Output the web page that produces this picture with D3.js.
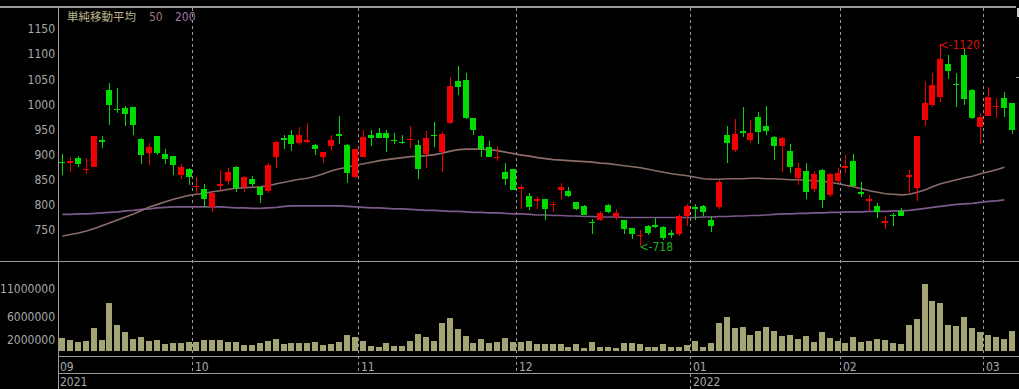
<!DOCTYPE html>
<html>
<head>
<meta charset="utf-8">
<script src="https://cdnjs.cloudflare.com/ajax/libs/d3/7.8.5/d3.min.js"></script>
<style>
  html, body { margin: 0; padding: 0; background: #000; }
  .axis-text { font-family: "Liberation Sans Narrow", "DejaVu Sans Condensed", sans-serif; font-size: 12px; fill: #a8a8a8; }
</style>
</head>
<body>
<div class="chart"></div>
<script>
/* Global Constants
============================================= */
const SVG_WIDTH = 1019;
const SVG_HEIGHT = 389;

const UP_COLOR = "#f00000";
const DOWN_COLOR = "#00dc00";
const LINE_COLOR = "#9a9a9a";

/* Data
============================================= */
const DATES = (
  "2021-09-06 2021-09-07 2021-09-08 2021-09-09 2021-09-10 2021-09-13 2021-09-14 2021-09-15 2021-09-16 2021-09-17 " +
  "2021-09-21 2021-09-22 2021-09-24 2021-09-27 2021-09-28 2021-09-29 2021-09-30 " +
  "2021-10-01 2021-10-04 2021-10-05 2021-10-06 2021-10-07 2021-10-08 2021-10-11 2021-10-12 2021-10-13 2021-10-14 " +
  "2021-10-15 2021-10-18 2021-10-19 2021-10-20 2021-10-21 2021-10-22 2021-10-25 2021-10-26 2021-10-27 2021-10-28 2021-10-29 " +
  "2021-11-01 2021-11-02 2021-11-04 2021-11-05 2021-11-08 2021-11-09 2021-11-10 2021-11-11 2021-11-12 2021-11-15 " +
  "2021-11-16 2021-11-17 2021-11-18 2021-11-19 2021-11-22 2021-11-24 2021-11-25 2021-11-26 2021-11-29 2021-11-30 " +
  "2021-12-01 2021-12-02 2021-12-03 2021-12-06 2021-12-07 2021-12-08 2021-12-09 2021-12-10 2021-12-13 2021-12-14 " +
  "2021-12-15 2021-12-16 2021-12-17 2021-12-20 2021-12-21 2021-12-22 2021-12-23 2021-12-24 2021-12-27 2021-12-28 2021-12-29 2021-12-30 " +
  "2022-01-04 2022-01-05 2022-01-06 2022-01-07 2022-01-11 2022-01-12 2022-01-13 2022-01-14 2022-01-17 2022-01-18 " +
  "2022-01-19 2022-01-20 2022-01-21 2022-01-24 2022-01-25 2022-01-26 2022-01-27 2022-01-28 2022-01-31 " +
  "2022-02-01 2022-02-02 2022-02-03 2022-02-04 2022-02-07 2022-02-08 2022-02-09 2022-02-10 2022-02-14 2022-02-15 " +
  "2022-02-16 2022-02-17 2022-02-18 2022-02-21 2022-02-22 2022-02-24 2022-02-25 2022-02-28 " +
  "2022-03-01 2022-03-02 2022-03-03 2022-03-04").split(" ");

const OPEN = [886,886,894,870,876,930,1029,991,992,994, 932,903,937,901,897,859,871,837,831,796,
              840,848,876,835,852,835,828,895,934,939, 923,925,919,896,917,941,920,855,896,940,
              944,944,930,926,931,920,901,940,905,962, 1047,1048,972,937,916,895,866,871,832,818,
              810,811,801,830,827,805,798,766,769,800, 775,769,753,740,758,759,755,744,743,777,
              795,798,770,795,939,909,947,930,974,956, 936,917,907,853,867,831,869,820,848,876,
              887,825,810,798,766,780,787,858,833,969, 999,1014,1080,1041,1098,1029,954,977,996,1012,
              1002];
const HIGH = [901,896,897,894,938,937,1042,1032,997,995, 933,924,938,911,898,881,873,855,842,824,
              869,873,877,858,858,838,884,927,939,950, 954,962,922,906,939,977,921,912,950,950,
              953,949,944,939,957,930,947,964,946,1054, 1076,1063,973,940,928,917,883,872,840,824,
              816,812,806,844,836,806,800,771,788,801, 791,770,754,750,760,773,757,750,781,802,
              802,799,778,849,957,970,994,968,985,997, 937,935,921,884,883,868,872,863,873,899,
              901,846,820,803,778,783,793,869,937,1047, 1063,1120,1098,1063,1112,1030,983,1035,1013,1024,
              1003];
const LOW  = [860,866,875,861,875,913,959,982,956,939, 881,879,899,881,859,851,840,823,796,786,
              830,840,826,826,838,803,824,873,911,908, 919,923,899,883,908,922,844,854,895,918,
              933,905,921,921,913,851,873,916,866,961, 1019,970,939,896,895,888,840,829,791,790,
              791,770,786,810,816,789,779,743,768,784, 770,743,732,718,740,753,730,735,738,757,
              769,777,747,791,883,906,936,924,921,939, 889,866,864,840,811,826,793,816,844,863,
              838,816,788,773,751,757,777,823,808,957, 995,1005,1050,995,999,970,922,976,973,975,
              942];
const CLOSE = [885,887,881,872,937,925,999,989,980,958, 899,916,903,891,879,876,856,838,811,823,
               841,865,833,855,842,820,879,926,929,921, 939,930,911,905,929,940,864,911,936,934,
               934,934,929,925,932,871,933,939,942,1037, 1034,972,949,911,896,896,851,830,835,796,
               811,791,802,836,818,791,780,765,783,785, 783,751,742,741,745,757,735,743,778,798,
               793,786,757,846,923,942,945,944,946,948, 917,934,876,873,826,861,810,861,863,877,
               838,823,811,785,767,777,778,859,937,1003, 1039,1090,1066,1039,1011,972,975,1015,997,993,
               949];
const VOLUME = [2.27,1.86,1.45,1.63,3.93,1.8,8.5,4.6,3.2,2.0, 2.45,1.63,1.8,1.15,1.3,1.3,1.5,1.45,1.86,1.86,
                1.86,1.45,1.45,0.9,0.95,1.27,1.63,2.1,1.1,1.3, 1.3,1.3,1.45,1.0,1.1,1.45,2.75,2.45,1.63,0.85,
                0.68,1.3,0.85,0.85,1.74,3.0,2.45,1.74,4.8,5.8, 3.8,2.6,1.4,2.0,1.3,1.45,2.27,1.45,1.45,1.74,
                1.15,1.1,1.1,1.1,0.68,1.1,0.5,1.45,0.68,0.68, 0.5,1.3,1.3,1.1,0.68,0.68,1.1,0.68,0.68,0.9,
                1.63,0.68,1.3,4.8,6.0,4.0,4.1,2.8,3.45,4.1, 3.45,2.6,2.8,2.1,2.6,1.57,3.2,2.27,1.63,1.4,
                2.45,1.57,1.63,2.0,1.8,1.4,1.1,4.45,5.6,11.8, 8.7,8.5,4.6,4.28,6.0,3.9,3.2,2.75,2.45,2.0,
                3.45];
const MA50 = [738,741,744,748,753,759,764,770,776,782, 789,796,801,806,811,815,819,821,823,826,
              828,831,833,834,835,836,838,842,845,848, 851,853,857,862,868,872,875,879,882,885,
              888,890,892,894,896,897,898,900,903,907, 910,911,911,911,910,908,905,902,899,897,
              894,892,890,889,888,887,886,885,883,882, 880,878,876,874,871,868,865,862,860,858,
              855,852,851,851,852,852,852,853,853,852, 852,851,850,850,849,848,847,845,842,839,
              836,832,828,825,822,821,820,821,825,830, 836,842,846,850,854,857,862,866,870,875];
const MA200 = [781,781,782,782,783,784,785,786,788,789, 791,792,794,795,796,796,796,796,796,796,
               796,795,794,794,793,793,794,795,797,798, 798,798,798,798,798,798,797,796,795,794,
               794,793,792,792,791,790,789,789,788,787, 787,786,785,785,784,784,783,782,782,781,
               780,780,779,779,778,778,777,777,776,776, 776,775,775,775,775,775,775,775,775,775,
               775,776,776,777,777,778,778,779,779,780, 781,782,782,783,783,784,784,785,785,786,
               786,786,787,787,787,788,788,789,791,793, 795,797,799,801,802,803,805,807,808,810];

const PRICE_TICKS = [750, 800, 850, 900, 950, 1000, 1050, 1100, 1150];
const VOLUME_TICKS = [2000000, 6000000, 11000000];

/* Layout
============================================= */
var plotLeft = 58,
    plotRight = 1016,
    priceTop = 8,
    priceBottom = 261,
    volBottom = 356,
    monthRow = 373;

var svg = d3.select(".chart")
    .append("svg")
    .attr("width", SVG_WIDTH)
    .attr("height", SVG_HEIGHT)
    .style("display", "block")
    .style("background", "#000");

var candles = DATES.map(function(d, i) {
    return { date: d, open: OPEN[i], high: HIGH[i], low: LOW[i], close: CLOSE[i], volume: VOLUME[i] * 1e6 };
});

// scales
var xScale = d3.scaleBand().domain(DATES).range([plotLeft, 1014]).paddingInner(0.2);
var yPrice = d3.scaleLinear().domain([750, 1150]).range([230, 29]);
var yVolume = d3.scaleLinear().domain([0, 11000000]).range([350.5, 288.4]);

function cx(d) {
    return Math.round(xScale(d) + xScale.step() / 2) + 0.5;
}

svg.append("clipPath").attr("id", "price-clip")
    .append("rect")
    .attr("x", plotLeft + 1).attr("y", priceTop)
    .attr("width", plotRight - plotLeft - 1).attr("height", priceBottom - priceTop);

//****************** frame lines ******************//
var frame = svg.append("g").attr("stroke", LINE_COLOR).attr("shape-rendering", "crispEdges");
frame.append("line").attr("x1", 0).attr("x2", plotRight).attr("y1", 7).attr("y2", 7).attr("stroke-width", 2);
frame.append("line").attr("x1", 0).attr("x2", SVG_WIDTH).attr("y1", priceBottom).attr("y2", priceBottom);
frame.append("line").attr("x1", plotLeft).attr("x2", SVG_WIDTH).attr("y1", volBottom).attr("y2", volBottom);
frame.append("line").attr("x1", plotLeft).attr("x2", SVG_WIDTH).attr("y1", monthRow).attr("y2", monthRow);
frame.append("line").attr("x1", plotLeft).attr("x2", plotLeft).attr("y1", 6).attr("y2", SVG_HEIGHT);
// scrollbar stub at the right edge
frame.append("rect").attr("x", 1016.5).attr("y", 7.5).attr("width", 3).attr("height", 9)
    .attr("fill", "#d0d0d0").attr("stroke", "none");
frame.append("line").attr("x1", plotRight).attr("x2", SVG_WIDTH).attr("y1", 77).attr("y2", 77);

//****************** month / year separators ******************//
var monthStarts = DATES.filter(function(d, i) {
    return i > 0 && d.slice(5, 7) !== DATES[i - 1].slice(5, 7);
});

svg.append("g").selectAll("line")
    .data(monthStarts)
    .enter()
    .append("line")
    .attr("x1", function(d) { return Math.round(xScale(d)) - 0.5; })
    .attr("x2", function(d) { return Math.round(xScale(d)) - 0.5; })
    .attr("y1", priceTop)
    .attr("y2", function(d) { return d.slice(5, 7) === "01" ? SVG_HEIGHT : monthRow; })
    .attr("stroke", LINE_COLOR)
    .attr("stroke-dasharray", "3,3");

var monthLabels = [DATES[0]].concat(monthStarts);
svg.append("g").selectAll("text")
    .data(monthLabels)
    .enter()
    .append("text")
    .attr("class", "axis-text")
    .attr("x", function(d, i) { return i === 0 ? plotLeft + 2 : Math.round(xScale(d)) + 2; })
    .attr("y", 371)
    .text(function(d) { return d.slice(5, 7); });

var yearLabels = monthLabels.filter(function(d, i) { return i === 0 || d.slice(5, 7) === "01"; });
svg.append("g").selectAll("text")
    .data(yearLabels)
    .enter()
    .append("text")
    .attr("class", "axis-text")
    .attr("x", function(d, i) { return i === 0 ? plotLeft + 2 : Math.round(xScale(d)) + 2; })
    .attr("y", 385.5)
    .text(function(d) { return d.slice(0, 4); });

//****************** axes ******************//
var leftAxis = d3.axisLeft(yPrice).tickValues(PRICE_TICKS).tickSize(0).tickPadding(3).tickFormat(d3.format("d"));
var priceAxis = svg.append("g").attr("transform", `translate(${plotLeft}, 0)`).call(leftAxis);
priceAxis.select(".domain").remove();
priceAxis.selectAll("text").attr("class", "axis-text").attr("font-family", null).attr("font-size", null).attr("fill", null);

var volAxis = d3.axisLeft(yVolume).tickValues(VOLUME_TICKS).tickSize(0).tickPadding(3).tickFormat(d3.format("d"));
var volumeAxis = svg.append("g").attr("transform", `translate(${plotLeft}, 0)`).call(volAxis);
volumeAxis.select(".domain").remove();
volumeAxis.selectAll("text").attr("class", "axis-text").attr("font-family", null).attr("font-size", null).attr("fill", null);

//****************** moving averages ******************//
var plotGroup = svg.append("g").attr("clip-path", "url(#price-clip)");

function maLine(values) {
    return d3.line()
        .x(function(v, i) { return cx(DATES[i]); })
        .y(function(v) { return yPrice(v); })(values);
}

plotGroup.append("path").attr("d", maLine(MA200))
    .attr("fill", "none").attr("stroke", "#7a5a8a").attr("stroke-width", 1.6);
plotGroup.append("path").attr("d", maLine(MA50))
    .attr("fill", "none").attr("stroke", "#8c6c6a").attr("stroke-width", 1.6);

//****************** candles ******************//
var bodyW = Math.round(xScale.bandwidth());

var candle = plotGroup.selectAll("g.candle")
    .data(candles)
    .enter()
    .append("g")
    .attr("class", "candle")
    .attr("shape-rendering", "crispEdges");

candle.append("line")
    .attr("x1", function(d) { return cx(d.date); })
    .attr("x2", function(d) { return cx(d.date); })
    .attr("y1", function(d) { return yPrice(d.high); })
    .attr("y2", function(d) { return yPrice(d.low); })
    .attr("stroke", function(d) { return d.close >= d.open ? UP_COLOR : DOWN_COLOR; });

candle.append("rect")
    .attr("x", function(d) { return cx(d.date) - 0.5 - Math.floor(bodyW / 2); })
    .attr("y", function(d) { return yPrice(Math.max(d.open, d.close)); })
    .attr("width", bodyW)
    .attr("height", function(d) {
        return Math.max(1.5, Math.abs(yPrice(d.open) - yPrice(d.close)));
    })
    .attr("fill", function(d) { return d.close >= d.open ? UP_COLOR : DOWN_COLOR; });

//****************** high / low marks ******************//
var hi = d3.maxIndex(HIGH);
var lo = d3.minIndex(LOW);

svg.append("text")
    .attr("class", "axis-text")
    .attr("x", cx(DATES[hi]) - 1)
    .attr("y", yPrice(HIGH[hi]) + 5)
    .style("fill", "#d81010")
    .text("<-" + HIGH[hi]);

svg.append("text")
    .attr("class", "axis-text")
    .attr("x", cx(DATES[lo]) - 1)
    .attr("y", yPrice(LOW[lo]) + 5)
    .style("fill", "#20b020")
    .text("<-" + LOW[lo]);

//****************** volume ******************//
svg.append("g").selectAll("rect")
    .data(candles)
    .enter()
    .append("rect")
    .attr("x", function(d) { return cx(d.date) - 0.5 - Math.floor(bodyW / 2); })
    .attr("y", function(d) { return yVolume(d.volume); })
    .attr("width", bodyW)
    .attr("height", function(d) { return yVolume(0) - yVolume(d.volume); })
    .attr("fill", "#a3a374")
    .attr("shape-rendering", "crispEdges");

//****************** legend ******************//
var legend = svg.append("g").attr("font-size", "12px");
legend.append("text").attr("x", 67).attr("y", 21)
    .attr("font-family", "'Noto Sans CJK JP', sans-serif").attr("font-size", "11.5px")
    .attr("fill", "#bdb88e").text("単純移動平均");
legend.append("text").attr("class", "axis-text").attr("x", 149).attr("y", 21)
    .style("fill", "#a07676").text("50");
legend.append("text").attr("class", "axis-text").attr("x", 175).attr("y", 21)
    .style("fill", "#a078b0").text("200");
</script>
</body>
</html>
